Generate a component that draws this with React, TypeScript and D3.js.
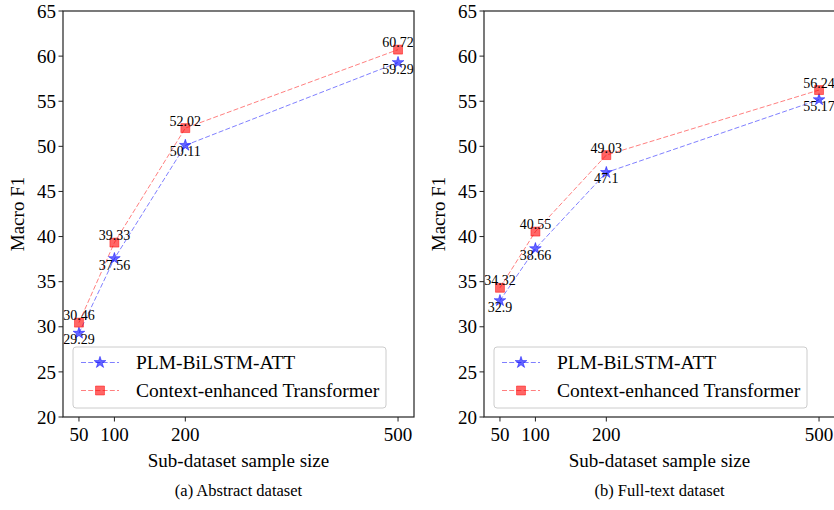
import { FC } from "react";
import * as d3 from "d3";

const sizes = [50, 100, 200, 500];
const yTicks = [20, 25, 30, 35, 40, 45, 50, 55, 60, 65];
const abstractPlm = [29.29, 37.56, 50.11, 59.29];
const abstractCet = [30.46, 39.33, 52.02, 60.72];
const fullPlm = [32.9, 38.66, 47.1, 55.17];
const fullCet = [34.32, 40.55, 49.03, 56.24];
const seriesNames = ["PLM-BiLSTM-ATT", "Context-enhanced Transformer"];

const FONT = "'Liberation Serif', 'Times New Roman', serif";
const TOP = 11;
const BOTTOM = 417;

interface PanelProps {
  left: number;
  right: number;
  plm: number[];
  cet: number[];
  caption: string;
}

const Panel: FC<PanelProps> = ({ left, right, plm, cet, caption }) => {
  const x = d3.scaleLinear().domain([27.5, 522.5]).range([left, right]);
  const y = d3.scaleLinear().domain([20, 65]).range([BOTTOM, TOP]);
  const line = d3
    .line<number>()
    .x((_, i) => x(sizes[i]))
    .y((d) => y(d));
  const star = d3.symbol(d3.symbolStar, 42)() || "";
  const square = d3.symbol(d3.symbolSquare, 80)() || "";
  const mid = (left + right) / 2;
  const legX = left + 10;
  const legY = 347;

  return (
    <g fontFamily={FONT}>
      <path d={line(plm) || ""} fill="none" stroke="blue" strokeOpacity={0.5} strokeWidth={1} strokeDasharray="5,2.2" />
      <path d={line(cet) || ""} fill="none" stroke="red" strokeOpacity={0.5} strokeWidth={1} strokeDasharray="5,2.2" />
      {plm.map((v, i) => (
        <g key={"p" + i}>
          <path d={star} transform={`translate(${x(sizes[i])},${y(v)})`} fill="blue" fillOpacity={0.6} stroke="blue" strokeOpacity={0.6} strokeWidth={0.8} />
          <text x={x(sizes[i])} y={y(v) + 11} textAnchor="middle" fontSize={14}>{v}</text>
        </g>
      ))}
      {cet.map((v, i) => (
        <g key={"c" + i}>
          <path d={square} transform={`translate(${x(sizes[i])},${y(v)})`} fill="red" fillOpacity={0.6} stroke="red" strokeOpacity={0.6} strokeWidth={0.8} />
          <text x={x(sizes[i])} y={y(v) - 2.5} textAnchor="middle" fontSize={14}>{v}</text>
        </g>
      ))}
      <rect x={left} y={TOP} width={right - left} height={BOTTOM - TOP} fill="none" stroke="#222" strokeWidth={1.2} />
      {yTicks.map((t) => (
        <g key={"y" + t}>
          <line x1={left - 4.5} x2={left} y1={y(t)} y2={y(t)} stroke="#222" strokeWidth={1} />
          <text x={left - 7} y={y(t)} dy="0.35em" textAnchor="end" fontSize={19}>{t}</text>
        </g>
      ))}
      {sizes.map((t) => (
        <g key={"x" + t}>
          <line x1={x(t)} x2={x(t)} y1={BOTTOM} y2={BOTTOM + 4.5} stroke="#222" strokeWidth={1} />
          <text x={x(t)} y={BOTTOM + 24} textAnchor="middle" fontSize={19}>{t}</text>
        </g>
      ))}
      <text transform={`translate(${left - 39},${(TOP + BOTTOM) / 2}) rotate(-90)`} textAnchor="middle" fontSize={19}>Macro F1</text>
      <text x={mid} y={467} textAnchor="middle" fontSize={19}>Sub-dataset sample size</text>
      <text x={mid} y={496} textAnchor="middle" fontSize={16.5}>{caption}</text>
      <rect x={legX} y={legY} width={313} height={61} rx={3} fill="white" fillOpacity={0.8} stroke="#ccc" strokeWidth={1} />
      {seriesNames.map((name, i) => {
        const ly = legY + 15.5 + i * 28;
        const c = i === 0 ? "blue" : "red";
        return (
          <g key={name}>
            <line x1={legX + 8} x2={legX + 46} y1={ly} y2={ly} stroke={c} strokeOpacity={0.5} strokeDasharray="5,2.2" />
            <path d={i === 0 ? star : square} transform={`translate(${legX + 27},${ly})`} fill={c} fillOpacity={0.6} stroke={c} strokeOpacity={0.6} strokeWidth={0.8} />
            <text x={legX + 63} y={ly} dy="0.35em" fontSize={19.5}>{name}</text>
          </g>
        );
      })}
    </g>
  );
};

const App: FC = () => (
  <svg width={834} height={510} style={{ position: "absolute", left: 0, top: 0, background: "white" }}>
    <Panel left={63} right={414} plm={abstractPlm} cet={abstractCet} caption="(a) Abstract dataset" />
    <Panel left={484} right={835} plm={fullPlm} cet={fullCet} caption="(b) Full-text dataset" />
  </svg>
);

export default App;
